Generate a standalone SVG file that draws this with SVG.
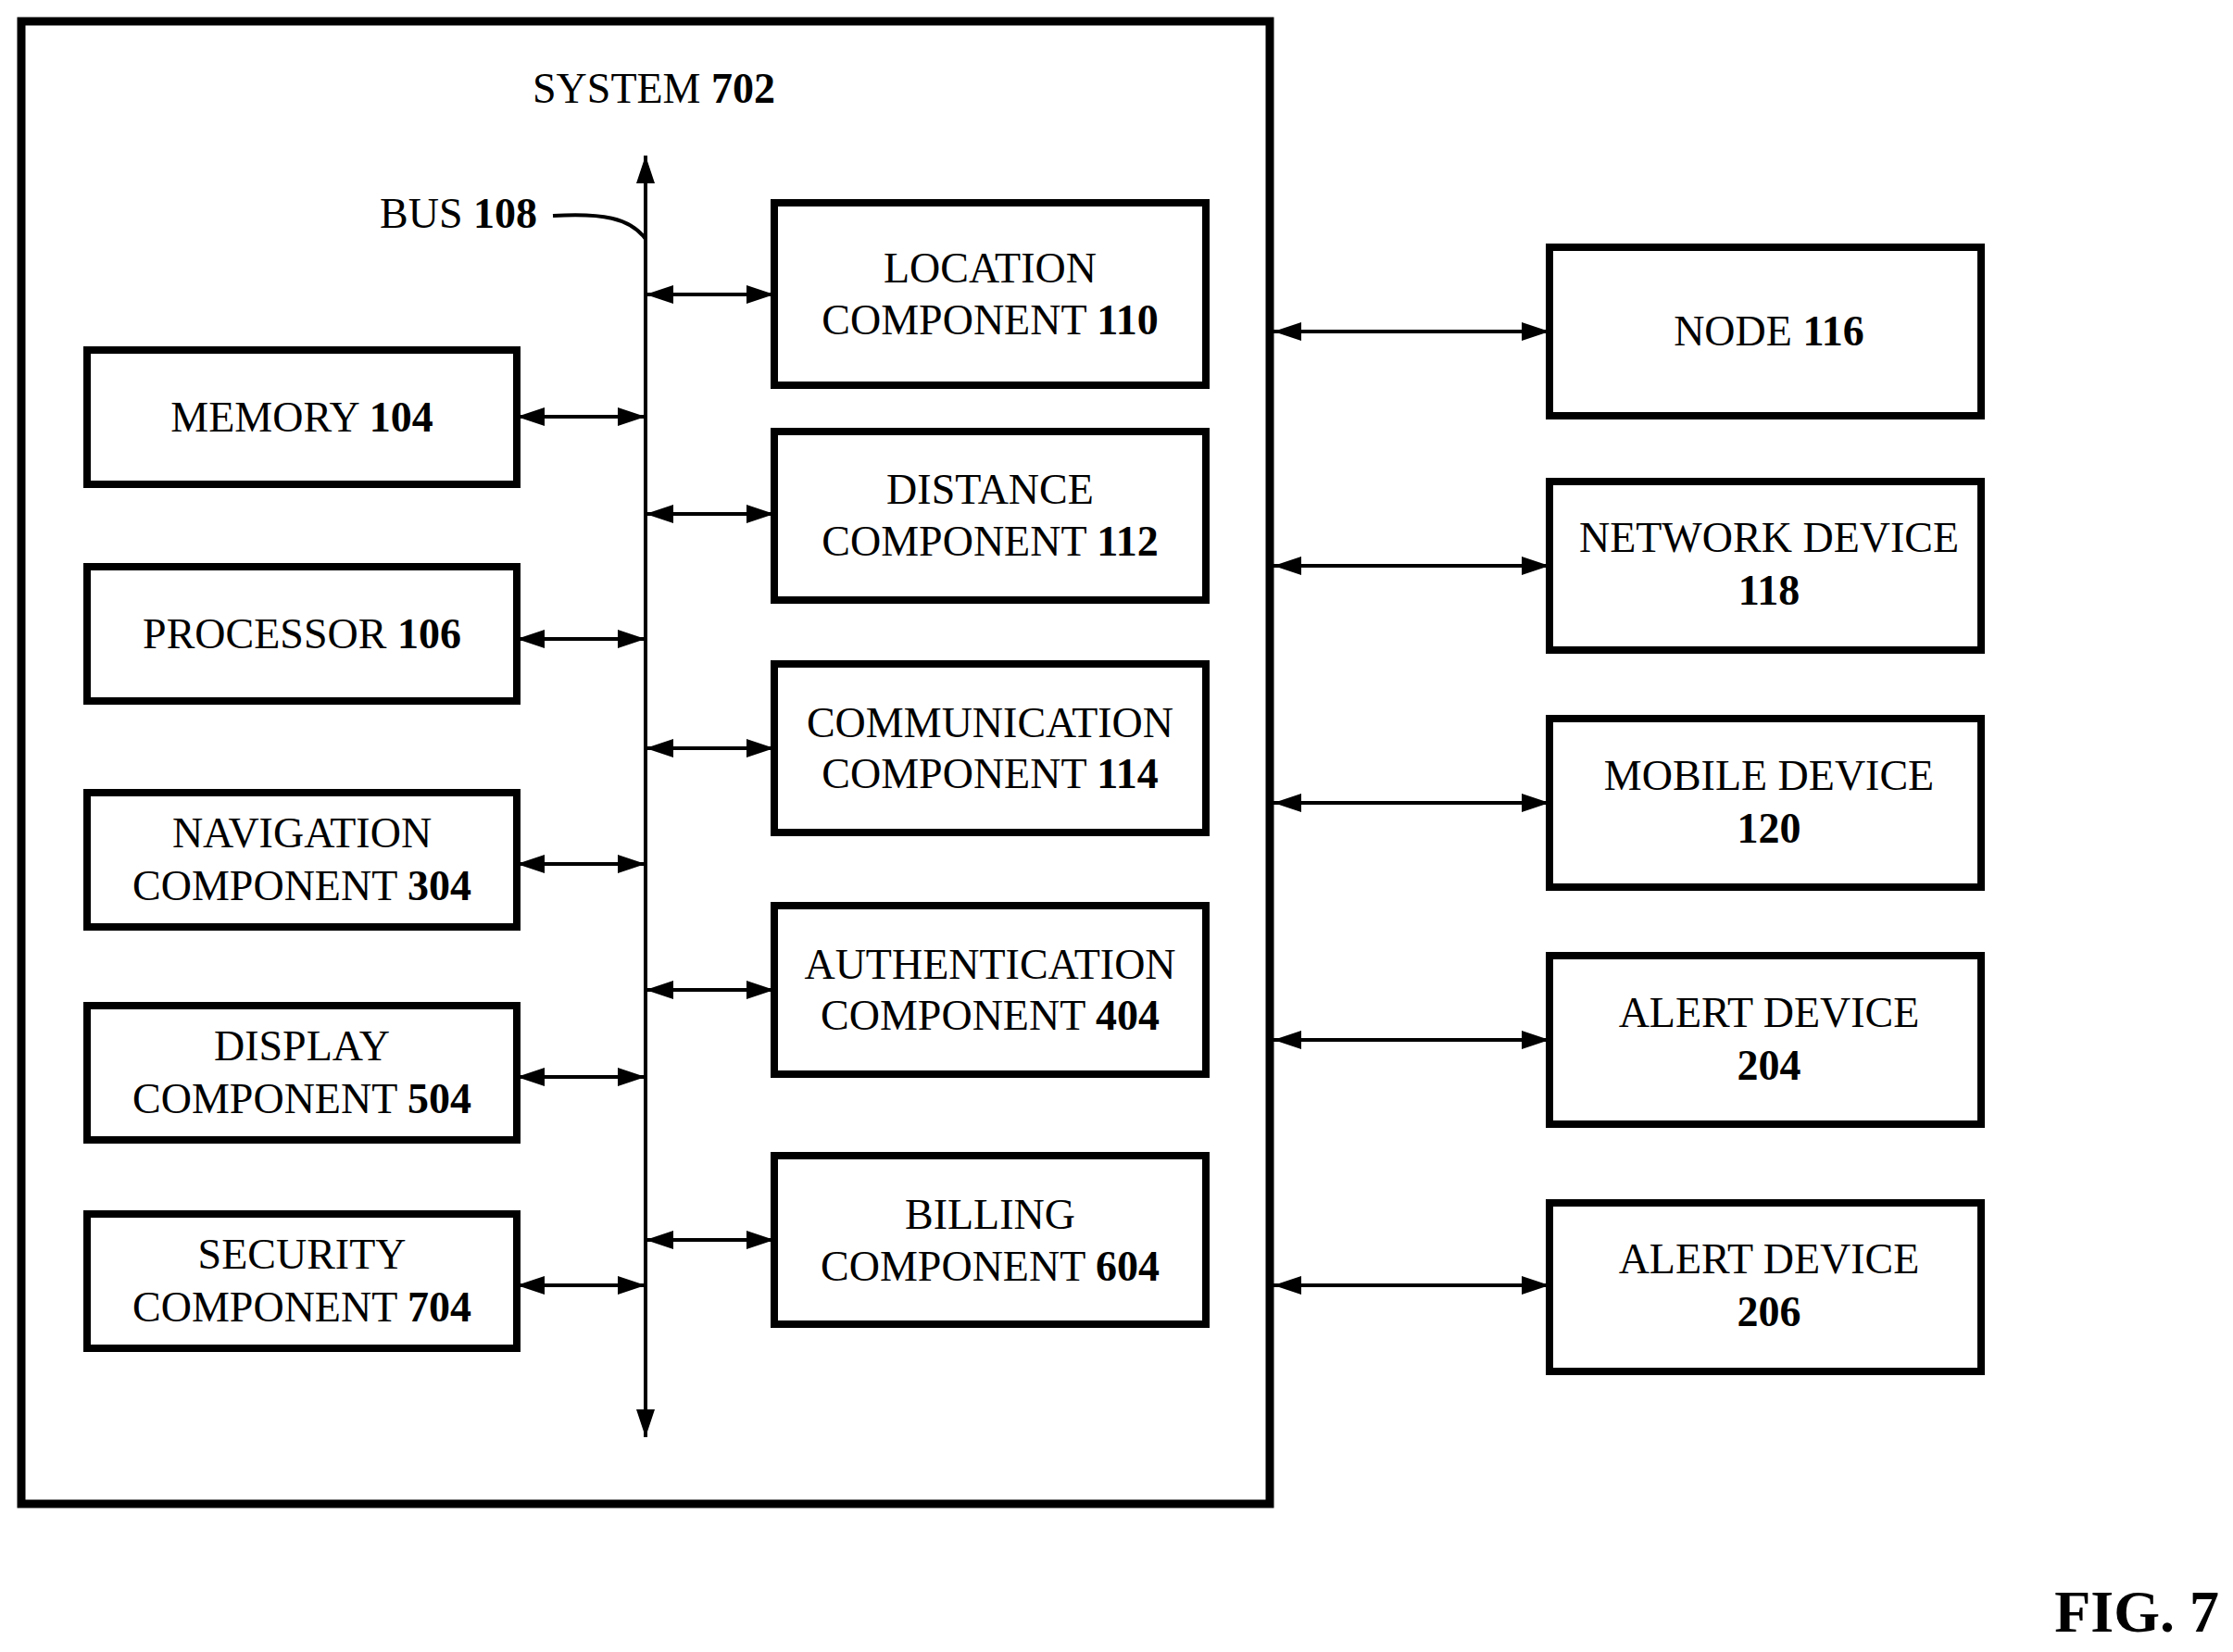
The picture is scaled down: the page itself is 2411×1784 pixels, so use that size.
<svg xmlns="http://www.w3.org/2000/svg" width="2411" height="1784" viewBox="0 0 2411 1784">
<style>
.b{fill:#fff;stroke:#000;stroke-width:8}
text{font-family:"Liberation Serif","Times New Roman",serif;font-size:46px;text-anchor:middle;fill:#000}
tspan.n{font-weight:bold}
.c{stroke:#000;stroke-width:4;fill:none}
</style>
<defs>
<marker id="a" markerUnits="userSpaceOnUse" markerWidth="30" markerHeight="20" refX="30" refY="10" orient="auto-start-reverse"><path d="M0,0L30,10L0,20z"/></marker>
</defs>
<rect x="23" y="23" width="1348" height="1601" fill="#fff" stroke="#000" stroke-width="9"/>
<text x="706" y="111">SYSTEM <tspan class="n">702</tspan></text>
<text x="580" y="246" style="text-anchor:end">BUS <tspan class="n">108</tspan></text>
<g id="connectors">
<path class="c" d="M597,233 C650,230 680,235 697,258"/>
<line class="c" x1="697" y1="1552" x2="697" y2="168" marker-start="url(#a)" marker-end="url(#a)"/>
<line class="c" x1="558" y1="450" x2="697" y2="450" marker-start="url(#a)" marker-end="url(#a)"/>
<line class="c" x1="558" y1="690" x2="697" y2="690" marker-start="url(#a)" marker-end="url(#a)"/>
<line class="c" x1="558" y1="933" x2="697" y2="933" marker-start="url(#a)" marker-end="url(#a)"/>
<line class="c" x1="558" y1="1163" x2="697" y2="1163" marker-start="url(#a)" marker-end="url(#a)"/>
<line class="c" x1="558" y1="1388" x2="697" y2="1388" marker-start="url(#a)" marker-end="url(#a)"/>
<line class="c" x1="697" y1="318" x2="836" y2="318" marker-start="url(#a)" marker-end="url(#a)"/>
<line class="c" x1="697" y1="555" x2="836" y2="555" marker-start="url(#a)" marker-end="url(#a)"/>
<line class="c" x1="697" y1="808" x2="836" y2="808" marker-start="url(#a)" marker-end="url(#a)"/>
<line class="c" x1="697" y1="1069" x2="836" y2="1069" marker-start="url(#a)" marker-end="url(#a)"/>
<line class="c" x1="697" y1="1339" x2="836" y2="1339" marker-start="url(#a)" marker-end="url(#a)"/>
<line class="c" x1="1375" y1="358" x2="1673" y2="358" marker-start="url(#a)" marker-end="url(#a)"/>
<line class="c" x1="1375" y1="611" x2="1673" y2="611" marker-start="url(#a)" marker-end="url(#a)"/>
<line class="c" x1="1375" y1="867" x2="1673" y2="867" marker-start="url(#a)" marker-end="url(#a)"/>
<line class="c" x1="1375" y1="1123" x2="1673" y2="1123" marker-start="url(#a)" marker-end="url(#a)"/>
<line class="c" x1="1375" y1="1388" x2="1673" y2="1388" marker-start="url(#a)" marker-end="url(#a)"/>
</g>
<g id="memory"><rect class="b" x="94" y="378" width="464" height="145"/><text x="326" y="466">MEMORY <tspan class="n">104</tspan></text></g>
<g id="processor"><rect class="b" x="94" y="612" width="464" height="145"/><text x="326" y="700">PROCESSOR <tspan class="n">106</tspan></text></g>
<g id="navigation"><rect class="b" x="94" y="856" width="464" height="145"/><text x="326" y="915">NAVIGATION</text><text x="326" y="972">COMPONENT <tspan class="n">304</tspan></text></g>
<g id="display"><rect class="b" x="94" y="1086" width="464" height="145"/><text x="326" y="1145">DISPLAY</text><text x="326" y="1202">COMPONENT <tspan class="n">504</tspan></text></g>
<g id="security"><rect class="b" x="94" y="1311" width="464" height="145"/><text x="326" y="1370">SECURITY</text><text x="326" y="1427">COMPONENT <tspan class="n">704</tspan></text></g>
<g id="location"><rect class="b" x="836" y="219" width="466" height="197"/><text x="1069" y="305">LOCATION</text><text x="1069" y="361">COMPONENT <tspan class="n">110</tspan></text></g>
<g id="distance"><rect class="b" x="836" y="466" width="466" height="182"/><text x="1069" y="544">DISTANCE</text><text x="1069" y="600">COMPONENT <tspan class="n">112</tspan></text></g>
<g id="communication"><rect class="b" x="836" y="717" width="466" height="182"/><text x="1069" y="796">COMMUNICATION</text><text x="1069" y="851">COMPONENT <tspan class="n">114</tspan></text></g>
<g id="authentication"><rect class="b" x="836" y="978" width="466" height="182"/><text x="1069" y="1057">AUTHENTICATION</text><text x="1069" y="1112">COMPONENT <tspan class="n">404</tspan></text></g>
<g id="billing"><rect class="b" x="836" y="1248" width="466" height="182"/><text x="1069" y="1327">BILLING</text><text x="1069" y="1383">COMPONENT <tspan class="n">604</tspan></text></g>
<g id="node"><rect class="b" x="1673" y="267" width="466" height="182"/><text x="1910" y="373">NODE  <tspan class="n">116</tspan></text></g>
<g id="network"><rect class="b" x="1673" y="520" width="466" height="182"/><text x="1910" y="596">NETWORK DEVICE</text><text x="1910" y="653" font-weight="bold">118</text></g>
<g id="mobile"><rect class="b" x="1673" y="776" width="466" height="182"/><text x="1910" y="853">MOBILE DEVICE</text><text x="1910" y="910" font-weight="bold">120</text></g>
<g id="alert204"><rect class="b" x="1673" y="1032" width="466" height="182"/><text x="1910" y="1109">ALERT DEVICE</text><text x="1910" y="1166" font-weight="bold">204</text></g>
<g id="alert206"><rect class="b" x="1673" y="1299" width="466" height="182"/><text x="1910" y="1375">ALERT DEVICE</text><text x="1910" y="1432" font-weight="bold">206</text></g>
<text x="2396" y="1762" style="text-anchor:end;font-weight:bold;font-size:64px">FIG. 7</text>
</svg>
